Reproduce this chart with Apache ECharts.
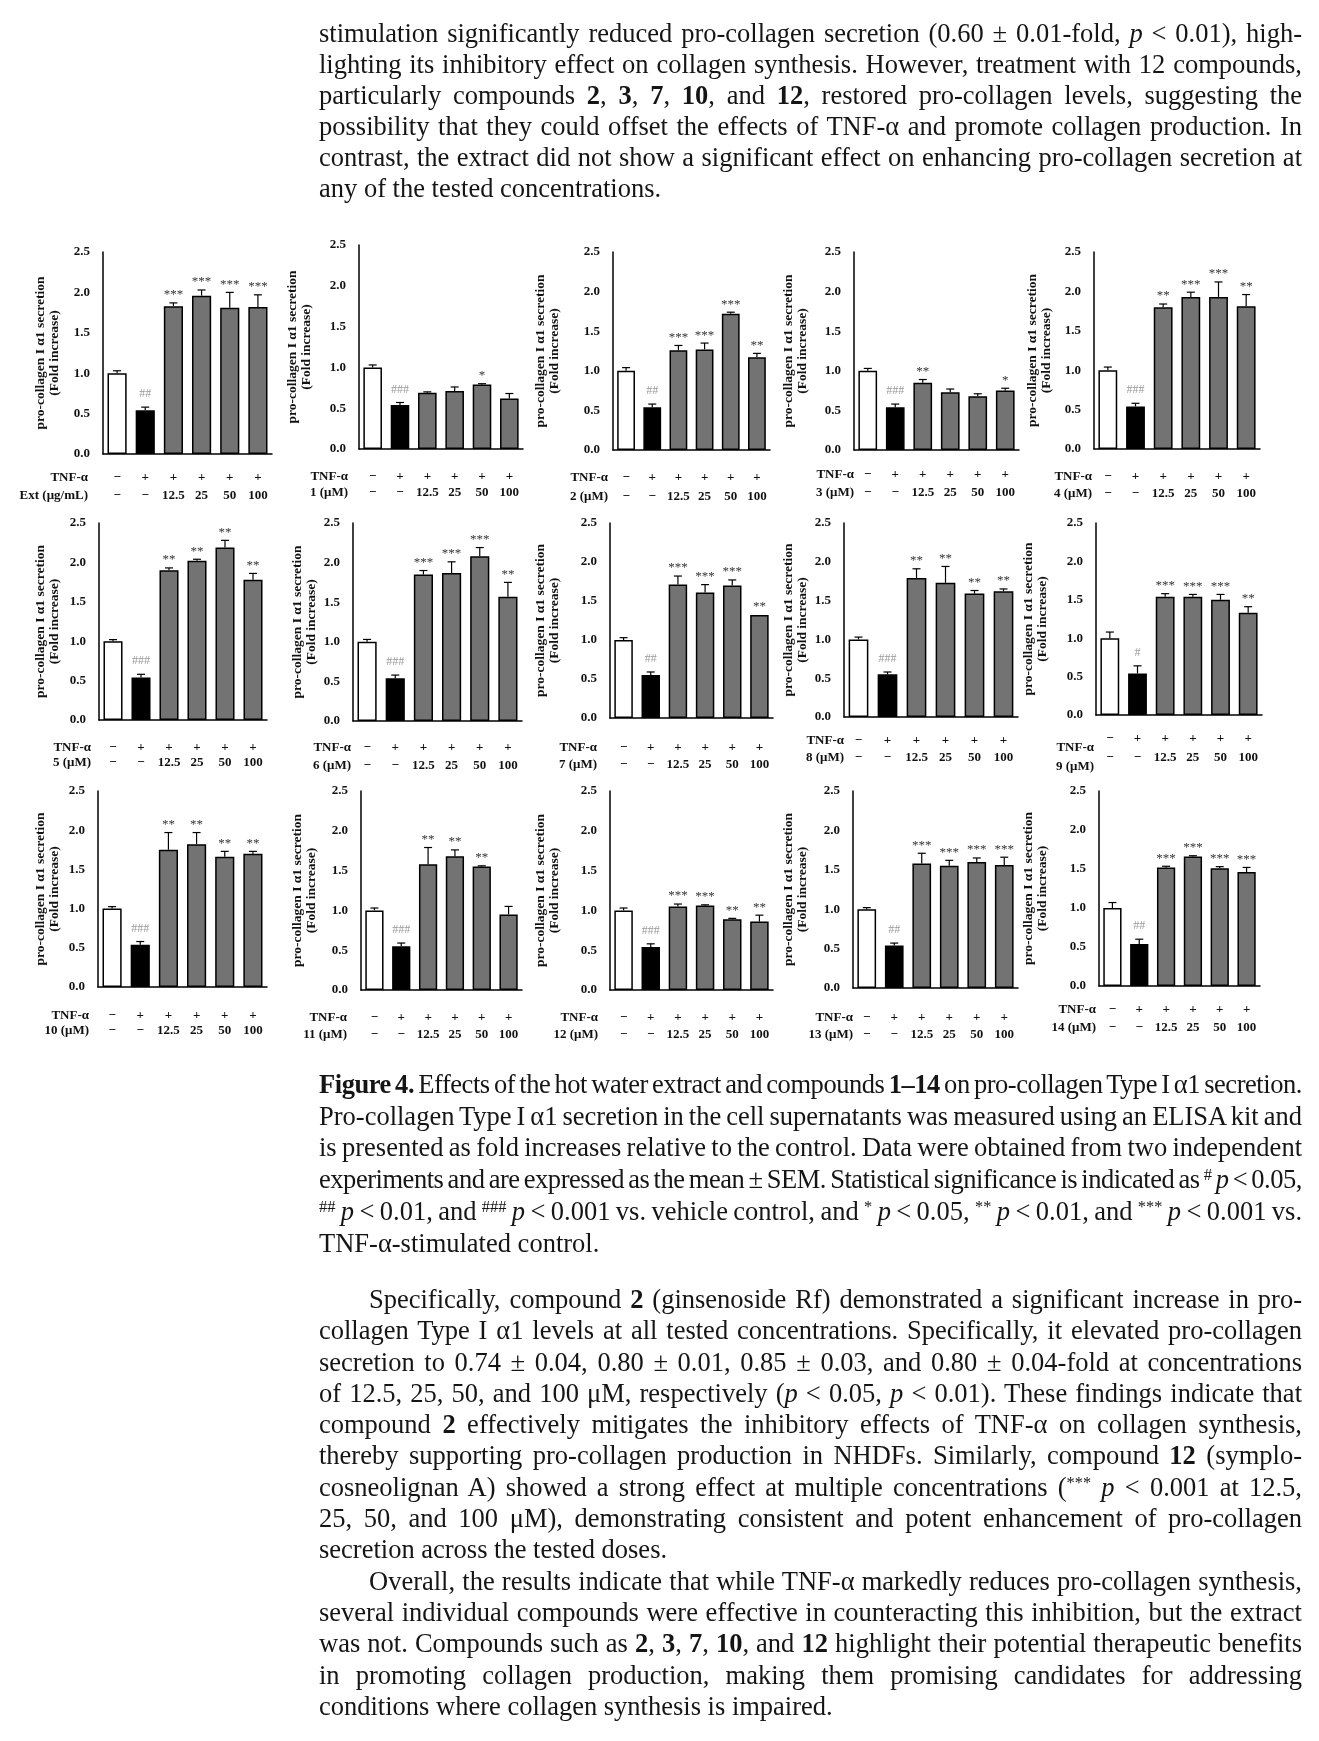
<!DOCTYPE html>
<html><head><meta charset="utf-8">
<script src="https://cdn.jsdelivr.net/npm/echarts@6/dist/echarts.min.js"></script>
<style>
html,body{margin:0;padding:0;background:#fff;}
body{width:1319px;height:1741px;position:relative;overflow:hidden;font-family:'Liberation Serif',serif;color:#151515;}
#chart{position:absolute;left:0;top:0;width:1319px;height:1741px;}
.blk{position:absolute;left:319px;width:983px;font-size:26.5px;}
.ln{white-space:nowrap;}
.ln.ind{padding-left:50px;}
sup{font-size:0.62em;vertical-align:0.5em;line-height:0;}
</style></head>
<body>
<div id="chart"></div>
<div class="blk" id="topText" style="top:18px;line-height:31px;">
<div class="ln j"><span>stimulation significantly reduced pro-collagen secretion (0.60 ± 0.01-fold, <i>p</i> &lt; 0.01), high-</span></div>
<div class="ln j"><span>lighting its inhibitory effect on collagen synthesis. However, treatment with 12 compounds,</span></div>
<div class="ln j"><span>particularly compounds <b>2</b>, <b>3</b>, <b>7</b>, <b>10</b>, and <b>12</b>, restored pro-collagen levels, suggesting the</span></div>
<div class="ln j"><span>possibility that they could offset the effects of TNF-α and promote collagen production. In</span></div>
<div class="ln j"><span>contrast, the extract did not show a significant effect on enhancing pro-collagen secretion at</span></div>
<div class="ln"><span>any of the tested concentrations.</span></div>
</div>
<div class="blk" id="caption" style="top:1069px;line-height:31.7px;">
<div class="ln j"><span><b>Figure 4.</b> Effects of the hot water extract and compounds <b>1–14</b> on pro-collagen Type I α1 secretion.</span></div>
<div class="ln j"><span>Pro-collagen Type I α1 secretion in the cell supernatants was measured using an ELISA kit and</span></div>
<div class="ln j"><span>is presented as fold increases relative to the control. Data were obtained from two independent</span></div>
<div class="ln j"><span>experiments and are expressed as the mean ± SEM. Statistical significance is indicated as <sup>#</sup> <i>p</i> &lt; 0.05,</span></div>
<div class="ln j"><span><sup>##</sup> <i>p</i> &lt; 0.01, and <sup>###</sup> <i>p</i> &lt; 0.001 vs. vehicle control, and <sup>*</sup> <i>p</i> &lt; 0.05, <sup>**</sup> <i>p</i> &lt; 0.01, and <sup>***</sup> <i>p</i> &lt; 0.001 vs.</span></div>
<div class="ln"><span>TNF-α-stimulated control.</span></div>
</div>
<div class="blk" id="bottomText" style="top:1284px;line-height:31.3px;">
<div class="ln j ind"><span>Specifically, compound <b>2</b> (ginsenoside Rf) demonstrated a significant increase in pro-</span></div>
<div class="ln j"><span>collagen Type I α1 levels at all tested concentrations. Specifically, it elevated pro-collagen</span></div>
<div class="ln j"><span>secretion to 0.74 ± 0.04, 0.80 ± 0.01, 0.85 ± 0.03, and 0.80 ± 0.04-fold at concentrations</span></div>
<div class="ln j"><span>of 12.5, 25, 50, and 100 μM, respectively (<i>p</i> &lt; 0.05, <i>p</i> &lt; 0.01). These findings indicate that</span></div>
<div class="ln j"><span>compound <b>2</b> effectively mitigates the inhibitory effects of TNF-α on collagen synthesis,</span></div>
<div class="ln j"><span>thereby supporting pro-collagen production in NHDFs. Similarly, compound <b>12</b> (symplo-</span></div>
<div class="ln j"><span>cosneolignan A) showed a strong effect at multiple concentrations (<sup>***</sup> <i>p</i> &lt; 0.001 at 12.5,</span></div>
<div class="ln j"><span>25, 50, and 100 μM), demonstrating consistent and potent enhancement of pro-collagen</span></div>
<div class="ln"><span>secretion across the tested doses.</span></div>
<div class="ln j ind"><span>Overall, the results indicate that while TNF-α markedly reduces pro-collagen synthesis,</span></div>
<div class="ln j"><span>several individual compounds were effective in counteracting this inhibition, but the extract</span></div>
<div class="ln j"><span>was not. Compounds such as <b>2</b>, <b>3</b>, <b>7</b>, <b>10</b>, and <b>12</b> highlight their potential therapeutic benefits</span></div>
<div class="ln j"><span>in promoting collagen production, making them promising candidates for addressing</span></div>
<div class="ln"><span>conditions where collagen synthesis is impaired.</span></div>
</div>
<script>
// ---------- DATA ----------
const tnfRow = ['−', '+', '+', '+', '+', '+'];
const doseRow = ['−', '−', '12.5', '25', '50', '100'];
const treatmentNames = ['Ext (μg/mL)', '1 (μM)', '2 (μM)', '3 (μM)', '4 (μM)', '5 (μM)', '6 (μM)', '7 (μM)',
  '8 (μM)', '9 (μM)', '10 (μM)', '11 (μM)', '12 (μM)', '13 (μM)', '14 (μM)'];
const yTickMax = 2.5;
const yTickStep = 0.5;

const ext_mean = [1.00, 0.54, 1.83, 1.96, 1.81, 1.82];
const ext_sem  = [0.03, 0.04, 0.04, 0.07, 0.19, 0.15];
const ext_sig  = ['', '##', '***', '***', '***', '***'];

const c1_mean = [1.00, 0.54, 0.69, 0.71, 0.79, 0.62];
const c1_sem  = [0.03, 0.03, 0.01, 0.05, 0.01, 0.06];
const c1_sig  = ['', '###', '', '', '*', ''];

const c2_mean = [1.00, 0.54, 1.26, 1.27, 1.72, 1.17];
const c2_sem  = [0.04, 0.04, 0.06, 0.08, 0.02, 0.05];
const c2_sig  = ['', '##', '***', '***', '***', '**'];

const c3_mean = [1.00, 0.54, 0.85, 0.73, 0.68, 0.75];
const c3_sem  = [0.03, 0.04, 0.04, 0.04, 0.03, 0.03];
const c3_sig  = ['', '###', '**', '', '', '*'];

const c4_mean = [1.00, 0.54, 1.80, 1.93, 1.93, 1.81];
const c4_sem  = [0.04, 0.04, 0.04, 0.06, 0.19, 0.15];
const c4_sig  = ['', '###', '**', '***', '***', '**'];

const c5_mean = [1.00, 0.54, 1.90, 2.02, 2.19, 1.78];
const c5_sem  = [0.02, 0.04, 0.03, 0.02, 0.09, 0.08];
const c5_sig  = ['', '###', '**', '**', '**', '**'];

const c6_mean = [1.00, 0.54, 1.85, 1.87, 2.08, 1.57];
const c6_sem  = [0.03, 0.04, 0.05, 0.14, 0.11, 0.18];
const c6_sig  = ['', '###', '***', '***', '***', '**'];

const c7_mean = [1.00, 0.55, 1.71, 1.61, 1.70, 1.32];
const c7_sem  = [0.03, 0.04, 0.11, 0.10, 0.07, 0.00];
const c7_sig  = ['', '##', '***', '***', '***', '**'];

const c8_mean = [1.00, 0.55, 1.79, 1.73, 1.59, 1.62];
const c8_sem  = [0.03, 0.03, 0.12, 0.21, 0.04, 0.03];
const c8_sig  = ['', '###', '**', '**', '**', '**'];

const c9_mean = [1.00, 0.54, 1.54, 1.54, 1.50, 1.33];
const c9_sem  = [0.08, 0.10, 0.04, 0.03, 0.07, 0.08];
const c9_sig  = ['', '#', '***', '***', '***', '**'];

const c10_mean = [1.00, 0.54, 1.75, 1.82, 1.66, 1.70];
const c10_sem  = [0.025, 0.04, 0.22, 0.15, 0.07, 0.03];
const c10_sig  = ['', '###', '**', '**', '**', '**'];

const c11_mean = [1.00, 0.55, 1.58, 1.68, 1.55, 0.95];
const c11_sem  = [0.03, 0.04, 0.21, 0.08, 0.01, 0.10];
const c11_sig  = ['', '###', '**', '**', '**', ''];

const c12_mean = [1.00, 0.54, 1.05, 1.06, 0.89, 0.86];
const c12_sem  = [0.03, 0.04, 0.03, 0.01, 0.01, 0.08];
const c12_sig  = ['', '###', '***', '***', '**', '**'];

const c13_mean = [1.00, 0.54, 1.58, 1.55, 1.60, 1.56];
const c13_sem  = [0.02, 0.03, 0.13, 0.07, 0.05, 0.10];
const c13_sig  = ['', '##', '***', '***', '***', '***'];

const c14_mean = [1.00, 0.54, 1.52, 1.66, 1.51, 1.46];
const c14_sem  = [0.07, 0.06, 0.015, 0.01, 0.02, 0.06];
const c14_sig  = ['', '##', '***', '***', '***', '***'];

// ---------- LAYOUT (pixels) ----------
// [axisX, top(2.5), right, bottom(0), row1Y, row2Y, yNameGap, xNameGap, nameRow1Y]
const LAYOUT = [
  [103, 252, 272, 454, 478, 496, 41, 15, 478],
  [359, 245, 523, 449, 477, 493, 45, 11, 477],
  [613, 252, 770, 450, 478, 497, 51, 5, 478],
  [854, 252, 1019, 450, 475, 493, 44, 0, 475],
  [1094, 252, 1260, 449, 477, 494, 40, 2, 477],
  [99, 523, 267, 720, 748, 763, 37, 8, 748],
  [353, 523, 522, 721, 748, 766, 34, 2, 748],
  [610, 523, 773, 718, 748, 765, 48, 13, 748],
  [844, 523, 1018, 717, 741, 758, 34, 0, 741],
  [1096, 523, 1262, 715, 739, 758, 46, 2, 748],
  [98, 791, 267, 987, 1016, 1031, 36, 9, 1016],
  [361, 791, 522, 990, 1018, 1035, 42, 14, 1018],
  [610, 791, 773, 990, 1018, 1035, 48, 12, 1018],
  [853, 791, 1018, 988, 1018, 1035, 43, 0, 1018],
  [1099, 791, 1260, 986, 1010, 1028, 49, 3, 1010]
];

const panels = [
  [ext_mean, ext_sem, ext_sig], [c1_mean, c1_sem, c1_sig], [c2_mean, c2_sem, c2_sig],
  [c3_mean, c3_sem, c3_sig], [c4_mean, c4_sem, c4_sig], [c5_mean, c5_sem, c5_sig],
  [c6_mean, c6_sem, c6_sig], [c7_mean, c7_sem, c7_sig], [c8_mean, c8_sem, c8_sig],
  [c9_mean, c9_sem, c9_sig], [c10_mean, c10_sem, c10_sig], [c11_mean, c11_sem, c11_sig],
  [c12_mean, c12_sem, c12_sig], [c13_mean, c13_sem, c13_sig], [c14_mean, c14_sem, c14_sig]
];

const FONT = 'Liberation Serif';
const barColors = ['#ffffff', '#000000', '#737373', '#737373', '#737373', '#737373'];
const categories = tnfRow.map((t, i) => t + '\n' + doseRow[i]);

const grids = [], xAxes = [], yAxes = [], series = [];
panels.forEach((p, i) => {
  const L = LAYOUT[i];
  const mean = p[0], sem = p[1], sig = p[2];
  const lh = L[5] - L[4];
  const margin = L[4] - L[3] - lh / 2;
  const namePad = L[8] - L[3] - lh / 2;
  grids.push({left: L[0], top: L[1], width: L[2] - L[0], height: L[3] - L[1], containLabel: false, outerBoundsMode: 'none'});
  xAxes.push({
    type: 'category', gridIndex: i, data: categories,
    axisLine: {show: true, lineStyle: {color: '#000', width: 1.5}},
    axisTick: {show: false}, splitLine: {show: false},
    axisLabel: {interval: 0, margin: margin, verticalAlign: 'top', lineHeight: lh,
      fontFamily: FONT, fontWeight: 'bold', fontSize: 13, color: '#111'},
    name: 'TNF-α\n' + treatmentNames[i], nameLocation: 'start', nameGap: L[7], nameMoveOverlap: false,
    nameTextStyle: {align: 'right', verticalAlign: 'top', lineHeight: lh, padding: [namePad, 0, 0, 0],
      fontFamily: FONT, fontWeight: 'bold', fontSize: 13, color: '#111'}
  });
  yAxes.push({
    type: 'value', gridIndex: i, min: 0, max: yTickMax, interval: yTickStep,
    axisLine: {show: true, lineStyle: {color: '#000', width: 1.5}},
    axisTick: {show: false}, splitLine: {show: false},
    axisLabel: {margin: 13, formatter: v => v.toFixed(1), fontFamily: FONT, fontWeight: 'bold', fontSize: 13, color: '#111'},
    name: 'pro-collagen I α1 secretion\n(Fold increase)', nameLocation: 'middle', nameRotate: 90,
    nameGap: L[6], nameMoveOverlap: false,
    nameTextStyle: {fontFamily: FONT, fontWeight: 'bold', fontSize: 13.5, lineHeight: 14, color: '#111'}
  });
  series.push({
    type: 'bar', xAxisIndex: i, yAxisIndex: i, barWidth: '68%', silent: true,
    data: mean.map((v, j) => ({value: v, itemStyle: {color: barColors[j]}})),
    itemStyle: {borderColor: '#000', borderWidth: 1.5}
  });
  series.push({
    type: 'custom', xAxisIndex: i, yAxisIndex: i, silent: true, z: 5,
    data: mean.map((v, j) => [j, v, sem[j]]),
    renderItem: (params, api) => {
      const j = api.value(0), v = api.value(1), e = api.value(2);
      const b = api.coord([j, v]);
      const t = api.coord([j, v + e]);
      const ch = [];
      if (e > 0) {
        ch.push({type: 'line', shape: {x1: b[0], y1: b[1], x2: t[0], y2: t[1]}, style: {stroke: '#000', lineWidth: 1.2}});
        ch.push({type: 'line', shape: {x1: t[0] - 4, y1: t[1], x2: t[0] + 4, y2: t[1]}, style: {stroke: '#000', lineWidth: 1.2}});
      }
      const s = sig[j];
      if (s) {
        const hash = s.charAt(0) === '#';
        ch.push({type: 'text', x: t[0], y: t[1] - (hash ? 13 : 8),
          style: {text: s, align: 'center', verticalAlign: 'middle',
            font: (hash ? '12px ' : '13px ') + '"' + FONT + '"', fill: hash ? '#9a9a9a' : '#333'}});
      }
      return {type: 'group', children: ch};
    }
  });
});

const chart = echarts.init(document.getElementById('chart'), null, {renderer: 'canvas'});
chart.setOption({animation: false, grid: grids, xAxis: xAxes, yAxis: yAxes, series: series});

// ---------- justify text lines ----------
document.querySelectorAll('.blk').forEach(blk => {
  const W = blk.clientWidth;
  blk.querySelectorAll('.ln.j').forEach(ln => {
    const span = ln.firstElementChild;
    const indent = ln.classList.contains('ind') ? 50 : 0;
    const avail = W - indent;
    const txt = span.textContent;
    const n = (txt.match(/ /g) || []).length;
    let w = span.getBoundingClientRect().width;
    // if the natural width is too wide, tighten letters a little first
    const minGap = 2;
    if (w + n * (-minGap) > avail) {
      span.style.letterSpacing = ((avail - w + n * minGap) / txt.length) + 'px';
      w = span.getBoundingClientRect().width;
    }
    if (n > 0) span.style.wordSpacing = ((avail - w) / n) + 'px';
  });
});
</script>
</body></html>
